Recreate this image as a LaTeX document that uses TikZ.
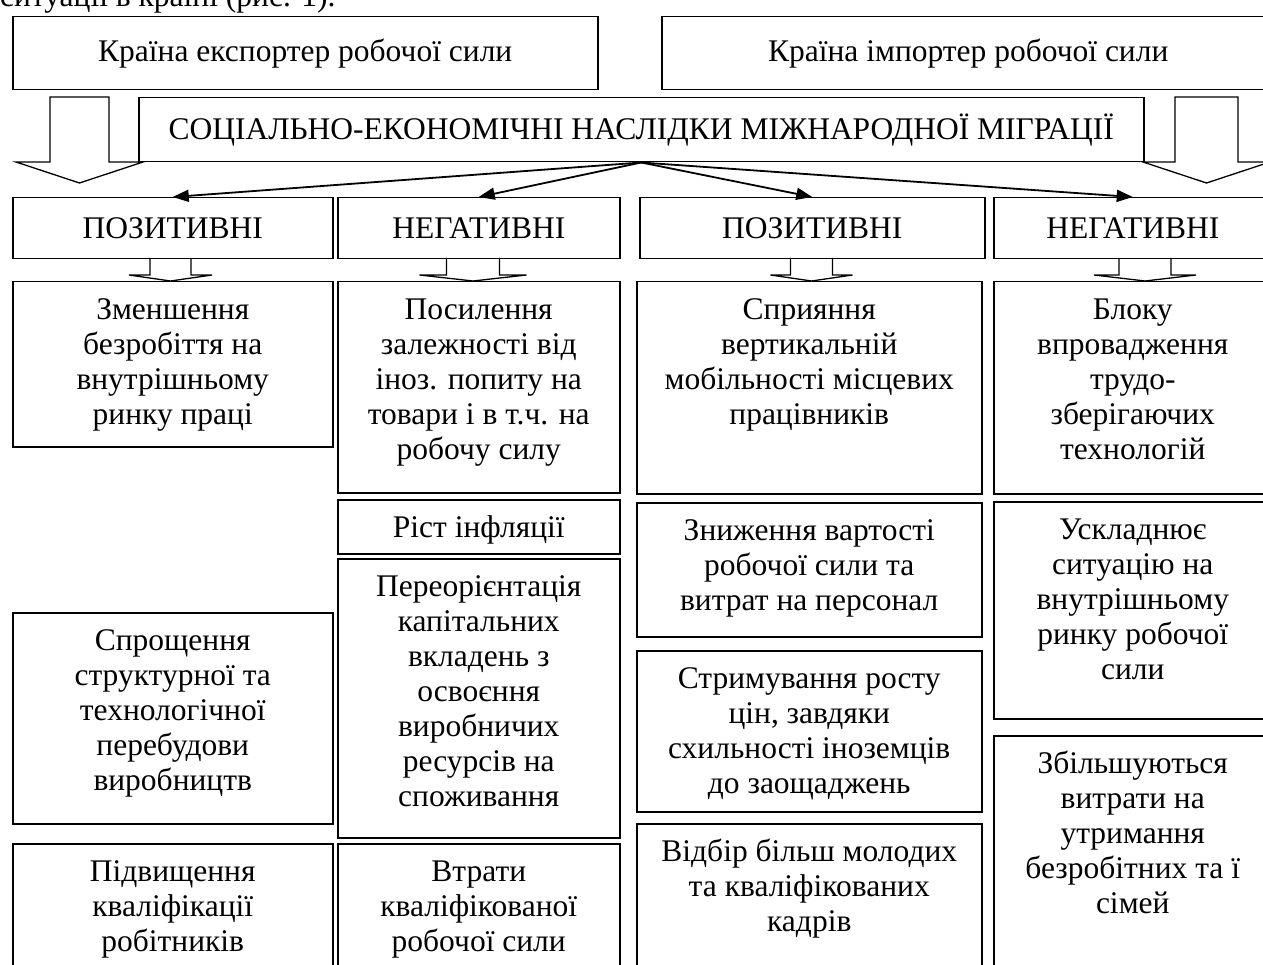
\documentclass[tikz,border=0pt]{standalone}
\usepackage{fontspec}
\setmainfont{Liberation Serif}
\usetikzlibrary{arrows.meta}
\tikzset{
  box/.style={draw, line width=1.5pt, inner sep=0pt, anchor=north west, fill=white, font=\fontsize{31.5}{35}\selectfont},
  conn/.style={line width=1.8pt, -{Triangle[length=16pt,width=12pt]}},
  bigarrow/.style={draw, line width=1.3pt, line join=miter, fill=white},
  blk/.style={draw, line width=1.3pt, line join=miter},
  plain/.style={inner sep=0pt, font=\fontsize{31.5}{35}\selectfont},
}
\newcommand\cellnode[6]{\node[box] (#1) at (#2,#3) {\parbox[t][#5pt][t]{#4pt}{\centering\rule{0pt}{38pt}#6}};}
\newcommand\downblk[3]{\draw[blk] (#1-#2,258) -- (#1-#2,275) -- (#1-#3,275) -- (#1,281) -- (#1+#3,275) -- (#1+#2,275) -- (#1+#2,258);}
\begin{document}
\begin{tikzpicture}[x=1pt,y=-1pt]
\useasboundingbox (0,0) rectangle (1263,965);
\fill[white] (0,0) rectangle (1263,965);
\begin{scope}
\clip (0,0) rectangle (1263,965);
% cut-off text line at the top
\node[plain, anchor=base west] (prev) at (0,7) {ситуації в країні (рис. 1).};
% top boxes
\node[box, minimum width=585pt, minimum height=73pt] (exp) at (12,16) {Країна експортер робочої сили};
\node[box, minimum width=613pt, minimum height=73pt] (imp) at (661,16) {Країна імпортер робочої сили};
% big block arrows
\draw[bigarrow] (50,97) -- (50,162) -- (16,162) -- (79.5,183) -- (143,162) -- (109,162) -- (109,97) -- cycle;
\draw[bigarrow] (1175,97) -- (1175,162) -- (1143,162) -- (1206.5,183) -- (1270,162) -- (1238,162) -- (1238,97) -- cycle;
% central box
\node[box, minimum width=1005pt, minimum height=64pt] (soc) at (138,97) {СОЦІАЛЬНО-ЕКОНОМІЧНІ НАСЛІДКИ МІЖНАРОДНОЇ МІГРАЦІЇ};
% level-1 boxes
\node[box, minimum width=320pt, minimum height=61pt] (p1) at (12,197) {ПОЗИТИВНІ};
\node[box, minimum width=282pt, minimum height=61pt] (n1) at (337,197) {НЕГАТИВНІ};
\node[box, minimum width=345pt, minimum height=61pt] (p2) at (639,197) {ПОЗИТИВНІ};
\node[box, minimum width=278pt, minimum height=61pt] (n2) at (993,197) {НЕГАТИВНІ};
% connectors
\draw[conn] (soc.south) -- (p1.north);
\draw[conn] (soc.south) -- (n1.north);
\draw[conn] (soc.south) -- (p2.north);
\draw[conn] (soc.south) -- (n2.north);
% small block arrows
\downblk{170.5}{20.5}{41.5}
\downblk{473}{26.5}{53.5}
\downblk{811.5}{21}{41}
\downblk{1145}{26}{51}
% column 1
\cellnode{a1}{12}{281}{320}{165}{Зменшення\\безробіття на\\внутрішньому\\ринку праці}
\cellnode{a2}{12}{612}{320}{211}{Спрощення\\структурної та\\технологічної\\перебудови\\виробництв}
\cellnode{a3}{12}{843}{320}{140}{Підвищення\\кваліфікації\\робітників}
% column 2
\cellnode{b1}{337}{281}{282}{211}{Посилення\\залежності від\\іноз. попиту на\\товари і в т.ч. на\\робочу силу}
\cellnode{b2}{337}{499}{282}{54}{Ріст інфляції}
\cellnode{b3}{337}{558}{282}{279}{Переорієнтація\\капітальних\\вкладень з\\освоєння\\виробничих\\ресурсів на\\споживання}
\cellnode{b4}{337}{843}{282}{140}{Втрати\\кваліфікованої\\робочої сили}
% column 3
\cellnode{c1}{636}{281}{345}{212}{Сприяння\\вертикальній\\мобільності місцевих\\працівників}
\cellnode{c2}{636}{502}{345}{134}{Зниження вартості\\робочої сили та\\витрат на персонал}
\cellnode{c3}{636}{650}{345}{161}{Стримування росту\\цін, завдяки\\схильності іноземців\\до заощаджень}
\cellnode{c4}{636}{823}{345}{160}{Відбір більш молодих\\та кваліфікованих\\кадрів}
% column 4
\cellnode{d1}{993}{281}{278}{212}{Блоку\\впровадження\\трудо-\\зберігаючих\\технологій}
\cellnode{d2}{993}{501}{278}{217}{Ускладнює\\ситуацію на\\внутрішньому\\ринку робочої\\сили}
\cellnode{d3}{993}{735}{278}{250}{Збільшуються\\витрати на\\утримання\\безробітних та ї\\сімей}
\end{scope}
\end{tikzpicture}
\end{document}
